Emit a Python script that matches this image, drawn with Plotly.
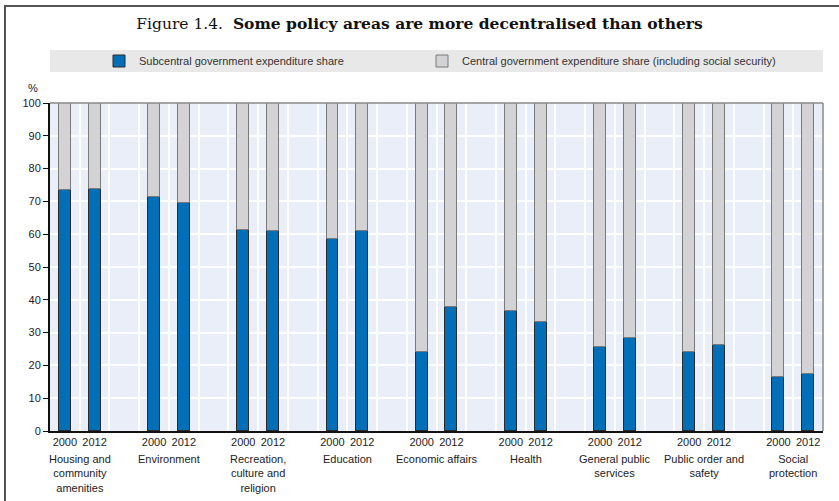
import plotly.graph_objects as go

categories = ["Housing and<br>community<br>amenities", "Environment",
              "Recreation,<br>culture and<br>religion", "Education",
              "Economic affairs", "Health", "General public<br>services",
              "Public order and<br>safety", "Social<br>protection"]
years = ["2000", "2012"]
sub_2000 = [73.5, 71.4, 61.3, 58.4, 24.0, 36.6, 25.7, 24.2, 16.6]
sub_2012 = [73.9, 69.4, 61.1, 61.1, 37.7, 33.1, 28.5, 26.3, 17.4]

W, H = 839, 501
L, R, T, B = 50, 16, 103, 70
pw, ph = W - L - R, H - T - B

xs, sub, cen, ticktext = [], [], [], []
for i in range(len(categories)):
    for j, vals in enumerate([sub_2000, sub_2012]):
        xs.append(3 * i + j)
        sub.append(vals[i])
        cen.append(round(100 - vals[i], 1))
        ticktext.append(years[j])

BLUE = "#006fb7"
GREY = "#d3d3d5"
SANS = "Liberation Sans, Arial, sans-serif"

fig = go.Figure()
fig.add_trace(go.Bar(x=xs, y=sub, name="Subcentral government expenditure share",
                     marker=dict(color=BLUE, line=dict(color="#2b2b2b", width=1)),
                     width=0.4, legend="legend"))
fig.add_trace(go.Bar(x=xs, y=cen, name="Central government expenditure share (including social security)",
                     marker=dict(color=GREY, line=dict(color="#7a7a7a", width=1)),
                     width=0.4, legend="legend2"))

def px_to_py(y):  # pixel from top -> paper y
    return (H - B - y) / ph

def px_to_px(x):
    return (x - L) / pw

annotations = []
for i, c in enumerate(categories):
    annotations.append(dict(x=3 * i + 0.5, y=px_to_py(451), xref="x", yref="paper",
                            text=c, showarrow=False, xanchor="center", yanchor="top",
                            font=dict(family=SANS, size=11, color="#222")))
annotations.append(dict(x=px_to_px(40), y=px_to_py(88), xref="paper", yref="paper",
                        text="%", showarrow=False, xanchor="right", yanchor="middle",
                        font=dict(family=SANS, size=11, color="#222")))

shapes = [
    dict(type="rect", xref="paper", yref="paper", x0=0, x1=1,
         y0=px_to_py(72), y1=px_to_py(50), fillcolor="#e8e8e9",
         line=dict(width=0), layer="below"),
    dict(type="line", xref="paper", yref="paper", x0=0, x1=1, y0=1, y1=1,
         line=dict(color="#8a8a8a", width=1.5)),
    dict(type="line", xref="paper", yref="paper", x0=1, x1=1, y0=0, y1=1,
         line=dict(color="#8a8a8a", width=1.5)),
    dict(type="line", xref="paper", yref="paper", x0=px_to_px(4), x1=px_to_px(W),
         y0=px_to_py(6), y1=px_to_py(6), line=dict(color="#555", width=2)),
    dict(type="line", xref="paper", yref="paper", x0=px_to_px(5), x1=px_to_px(5),
         y0=px_to_py(6), y1=px_to_py(H), line=dict(color="#555", width=2)),
]

legend_common = dict(orientation="h", yanchor="middle", xanchor="left",
                     bgcolor="rgba(0,0,0,0)",
                     font=dict(family=SANS, size=11, color="#333"))

fig.update_layout(
    width=W, height=H,
    margin=dict(l=L, r=R, t=T, b=B),
    paper_bgcolor="white",
    plot_bgcolor="#e9eef8",
    barmode="stack",
    bargap=0,
    title=dict(text="Figure 1.4.  <b>Some policy areas are more decentralised than others</b>",
               x=0.5, xanchor="center", y=1 - 24 / H, yanchor="middle",
               font=dict(family="DejaVu Serif, Liberation Serif, serif", size=15.5, color="#111")),
    legend=dict(x=px_to_px(99), y=px_to_py(61), **legend_common),
    legend2=dict(x=px_to_px(422), y=px_to_py(61), **legend_common),
    xaxis=dict(range=[-0.5, 25.5], tickmode="array", tickvals=xs, ticktext=ticktext,
               tickangle=0,
               showgrid=False, zeroline=False, showline=True, linecolor="#111", linewidth=2,
               ticks="", tickfont=dict(family=SANS, size=11, color="#222"),
               minor=dict(tick0=0.5, dtick=1, showgrid=True, gridcolor="white", gridwidth=1.5, ticks=""),
               fixedrange=True),
    yaxis=dict(range=[0, 100], tickmode="linear", tick0=0, dtick=10,
               showgrid=True, gridcolor="white", gridwidth=1.5, zeroline=False,
               showline=True, linecolor="#111", linewidth=2,
               ticks="outside", ticklen=5, tickcolor="#111", tickwidth=1,
               tickfont=dict(family=SANS, size=11, color="#222")),
    annotations=annotations,
    shapes=shapes,
    showlegend=True,
)

fig.write_html("out.html", config={"displayModeBar": False},
               post_script="document.body.style.margin='0';document.body.style.overflow='hidden';")
